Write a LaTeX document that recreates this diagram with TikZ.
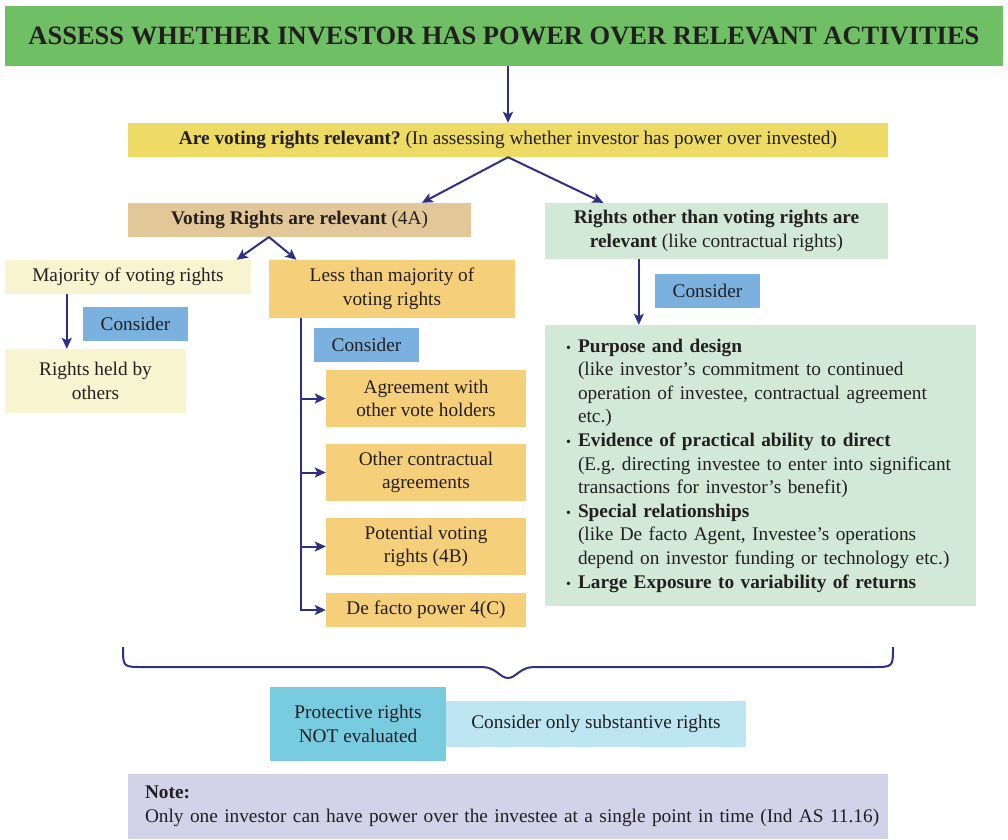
\documentclass[tikz,border=0pt]{standalone}
\usepackage{fontspec}
\setmainfont{Liberation Serif}
\usepackage{tikz}
\usepackage{xcolor}
\usetikzlibrary{arrows.meta, positioning, calc}
\frenchspacing

\definecolor{inktext}{RGB}{35,31,32}
\definecolor{navy}{RGB}{46,49,128}
\definecolor{headgreen}{RGB}{111,191,100}
\definecolor{qyellow}{RGB}{237,219,102}
\definecolor{tan}{RGB}{226,200,152}
\definecolor{mint}{RGB}{211,233,216}
\definecolor{cream}{RGB}{248,244,208}
\definecolor{apricot}{RGB}{246,207,123}
\definecolor{skyblue}{RGB}{123,177,223}
\definecolor{teal}{RGB}{121,203,224}
\definecolor{icecyan}{RGB}{190,230,242}
\definecolor{lavender}{RGB}{210,210,232}

\newcommand{\diagfont}{\fontsize{19.3}{23.6}\selectfont}
\newcommand{\titlefont}{\fontsize{26.5}{30}\selectfont\bfseries}
\newcommand{\bulletmark}{\makebox[12pt][l]{\fontsize{14}{14}\selectfont\textbullet}}

\begin{document}
\begin{tikzpicture}[x=1pt, y=-1pt,
    box/.style={rectangle, inner sep=0pt, align=center, text=inktext, font=\diagfont},
    header/.style={box, fill=headgreen, font=\titlefont},
    question/.style={box, fill=qyellow},
    votebox/.style={box, fill=tan},
    otherbox/.style={box, fill=mint},
    majbox/.style={box, fill=cream},
    lessbox/.style={box, fill=apricot},
    consider/.style={box, fill=skyblue, minimum width=105pt, minimum height=34pt},
    arrow/.style={-{Stealth[length=11pt, width=10pt, inset=2.5pt]}, line width=2pt, draw=navy},
    brace/.style={line width=2pt, draw=navy}
]
    \useasboundingbox (0,0) rectangle (1008,839);

    % Title
    \node[header, minimum width=998pt, minimum height=60pt] (title) at (504,36)
        {ASSESS WHETHER INVESTOR HAS POWER OVER RELEVANT ACTIVITIES};

    % Question
    \node[question, minimum width=760pt, minimum height=34pt] (quest) at (508,140)
        {\textbf{Are voting rights relevant?} (In assessing whether investor has power over invested)};

    % Voting rights branch
    \node[votebox, minimum width=343pt, minimum height=34pt] (voting) at (299.5,220)
        {\textbf{Voting Rights are relevant} (4A)};
    \node[majbox, minimum width=246pt, minimum height=34pt] (major) at (128,277)
        {Majority of voting rights};
    \node[consider] (consA) at (135.5,324) {Consider};
    \node[majbox, minimum width=181pt, minimum height=64pt] (held) at (95.5,381)
        {Rights held by\\ others};
    \node[lessbox, minimum width=246pt, minimum height=58pt] (less) at (392,289)
        {Less than majority of\\ voting rights};
    \node[consider] (consB) at (366.5,345) {Consider};
    \node[lessbox, minimum width=200pt, minimum height=57pt] (agree) at (426,398.5)
        {Agreement with\\ other vote holders};
    \node[lessbox, minimum width=200pt, minimum height=57pt] (contract) at (426,472.5)
        {Other contractual\\ agreements};
    \node[lessbox, minimum width=200pt, minimum height=57pt] (potential) at (426,546.5)
        {Potential voting\\ rights (4B)};
    \node[lessbox, minimum width=200pt, minimum height=34pt] (defacto) at (426,610)
        {De facto power 4(C)};

    % Other rights branch
    \node[otherbox, minimum width=343pt, minimum height=56pt] (other) at (716.5,231)
        {\textbf{Rights other than voting rights are}\\ \textbf{relevant} (like contractual rights)};
    \node[consider] (consC) at (707.5,291) {Consider};
    \node[otherbox, minimum width=431pt, minimum height=281pt, text width=389pt, align=left] (factors) at (760.5,465.5) {%
        \bulletmark\textbf{Purpose and design}\\
        \hspace*{12pt}\mbox{(like investor's commitment to continued}\\
        \hspace*{12pt}\mbox{operation of investee, contractual agreement}\\
        \hspace*{12pt}etc.)\\
        \bulletmark\mbox{\textbf{Evidence of practical ability to direct}}\\
        \hspace*{12pt}\mbox{(E.g. directing investee to enter into significant}\\
        \hspace*{12pt}\mbox{transactions for investor's benefit)}\\
        \bulletmark\textbf{Special relationships}\\
        \hspace*{12pt}\mbox{(like De facto Agent, Investee's operations}\\
        \hspace*{12pt}\mbox{depend on investor funding or technology etc.)}\\
        \bulletmark\mbox{\textbf{Large Exposure to variability of returns}}};

    % Outcome
    \node[box, fill=teal, minimum width=176pt, minimum height=74pt] (protect) at (358,724)
        {Protective rights\\ NOT evaluated};
    \node[box, fill=icecyan, minimum width=300pt, minimum height=46pt] (subst) at (596,724)
        {Consider only substantive rights};

    % Note
    \node[box, fill=lavender, minimum width=760pt, minimum height=65pt, text width=726pt, align=left] (note) at (508,806.5)
        {\textbf{Note:}\\ \mbox{Only one investor can have power over the investee at a single point in time (Ind AS 11.16)}};

    % Connectors
    \coordinate (vfork) at (269,237);
    \coordinate (spine) at ([xshift=32pt]less.south west);
    \draw[arrow] (title.south -| quest.north) -- (quest.north);
    \draw[arrow] (quest.south) -- (voting.8);
    \draw[arrow] (quest.south) -- (other.166);
    \draw[arrow] (vfork) -- (major.9);
    \draw[arrow] (vfork) -- (less.163);
    \draw[arrow] ([xshift=62pt]major.south west) -- ([xshift=62pt]held.north west);
    \draw[arrow] (spine) |- (agree.west);
    \draw[arrow] (spine) |- (contract.west);
    \draw[arrow] (spine) |- (potential.west);
    \draw[arrow] (spine) |- (defacto.west);
    \draw[arrow] ([xshift=94pt]other.south west) -- ([xshift=94pt]factors.north west);

    % Brace
    \draw[brace] (123,647) .. controls (123,667) and (123,667) .. (143,667) -- (482,667)
        .. controls (496,667) and (500,678) .. (508,678)
        .. controls (516,678) and (520,667) .. (534,667) -- (873,667)
        .. controls (893,667) and (893,667) .. (893,647);

\end{tikzpicture}
\end{document}
